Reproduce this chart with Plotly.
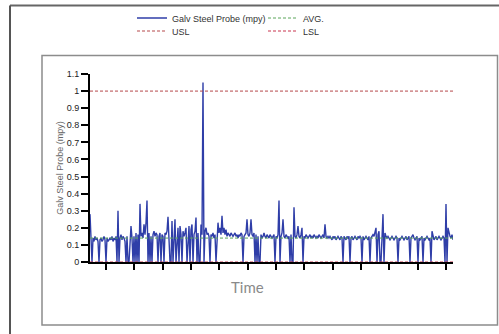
import plotly.graph_objects as go

# ---------------- data ----------------
probe_mpy = [
    0.28, 0.13, 0.00, 0.14, 0.12, 0.15, 0.13, 0.14, 0.12, 0.00,
    0.13, 0.14, 0.12, 0.13, 0.15, 0.13, 0.00, 0.14, 0.12, 0.13,
    0.14, 0.13, 0.15, 0.12, 0.14, 0.13, 0.15, 0.00, 0.30, 0.00,
    0.14, 0.16, 0.13, 0.15, 0.14, 0.12, 0.00, 0.15, 0.00, 0.00,
    0.16, 0.21, 0.14, 0.00, 0.15, 0.00, 0.17, 0.00, 0.16, 0.00,
    0.34, 0.15, 0.17, 0.14, 0.22, 0.16, 0.23, 0.36, 0.00, 0.17,
    0.00, 0.15, 0.00, 0.16, 0.18, 0.15, 0.17, 0.16, 0.00, 0.15,
    0.17, 0.00, 0.16, 0.15, 0.00, 0.17, 0.16, 0.18, 0.265, 0.15,
    0.00, 0.00, 0.24, 0.00, 0.17, 0.25, 0.00, 0.16, 0.20, 0.00,
    0.21, 0.16, 0.00, 0.18, 0.15, 0.17, 0.20, 0.00, 0.16, 0.21,
    0.00, 0.19, 0.22, 0.00, 0.16, 0.18, 0.26, 0.00, 0.17, 0.00,
    0.00, 0.22, 0.16, 1.05, 0.00, 0.18, 0.20, 0.16, 0.17, 0.15,
    0.00, 0.16, 0.15, 0.17, 0.14, 0.16, 0.00, 0.15, 0.23, 0.17,
    0.20, 0.16, 0.27, 0.17, 0.20, 0.16, 0.19, 0.15, 0.17, 0.16,
    0.15, 0.17, 0.16, 0.15, 0.16, 0.17, 0.15, 0.16, 0.14, 0.16,
    0.15, 0.17, 0.16, 0.00, 0.15, 0.16, 0.17, 0.25, 0.16, 0.15,
    0.17, 0.25, 0.16, 0.15, 0.17, 0.00, 0.16, 0.00, 0.15, 0.00,
    0.00, 0.16, 0.14, 0.15, 0.17, 0.15, 0.14, 0.16, 0.15, 0.14,
    0.16, 0.15, 0.14, 0.15, 0.16, 0.00, 0.15, 0.14, 0.16, 0.36,
    0.00, 0.15, 0.17, 0.25, 0.15, 0.14, 0.16, 0.15, 0.14, 0.15,
    0.00, 0.16, 0.00, 0.00, 0.32, 0.15, 0.14, 0.16, 0.21, 0.15,
    0.14, 0.16, 0.20, 0.00, 0.15, 0.14, 0.16, 0.15, 0.14, 0.15,
    0.16, 0.14, 0.15, 0.14, 0.16, 0.15, 0.14, 0.15, 0.14, 0.16,
    0.15, 0.14, 0.15, 0.16, 0.14, 0.22, 0.15, 0.14, 0.15, 0.14,
    0.15, 0.14, 0.13, 0.15, 0.14, 0.15, 0.13, 0.14, 0.15, 0.14,
    0.13, 0.15, 0.14, 0.00, 0.15, 0.14, 0.13, 0.15, 0.14, 0.15,
    0.00, 0.14, 0.15, 0.13, 0.14, 0.15, 0.14, 0.13, 0.15, 0.14,
    0.15, 0.14, 0.00, 0.15, 0.13, 0.14, 0.15, 0.14, 0.13, 0.15,
    0.00, 0.14, 0.15, 0.16, 0.15, 0.17, 0.20, 0.00, 0.16, 0.18,
    0.00, 0.00, 0.22, 0.28, 0.00, 0.17, 0.15, 0.14, 0.15, 0.14,
    0.13, 0.14, 0.15, 0.14, 0.13, 0.14, 0.15, 0.14, 0.00, 0.14,
    0.13, 0.14, 0.15, 0.14, 0.13, 0.14, 0.15, 0.13, 0.14, 0.15,
    0.00, 0.14, 0.15, 0.16, 0.14, 0.13, 0.14, 0.15, 0.00, 0.14,
    0.13, 0.14, 0.15, 0.00, 0.14, 0.13, 0.14, 0.15, 0.14, 0.13,
    0.14, 0.00, 0.18, 0.14, 0.13, 0.14, 0.15, 0.13, 0.14, 0.15,
    0.14, 0.13, 0.14, 0.15, 0.14, 0.00, 0.34, 0.00, 0.20, 0.16,
    0.15, 0.14, 0.16, 0.13,
]
time_index = list(range(len(probe_mpy)))
avg_value = 0.14
usl_value = 1.0
lsl_value = 0.0
y_tick_values = [0, 0.1, 0.2, 0.3, 0.4, 0.5, 0.6, 0.7, 0.8, 0.9, 1.0, 1.1]
y_tick_labels = ["0", "0.1", "0.2", "0.3", "0.4", "0.5", "0.6", "0.7", "0.8", "0.9", "1", "1.1"]

# ---------------- layout geometry (pixels) ----------------
W, H = 499, 334
PL, PR, PT, PB = 90, 453, 74, 262   # plot area edges in px

def px(xpix):
    return (xpix - PL) / (PR - PL)

def py(ypix):
    return (PB - ypix) / (PB - PT)

x_end = len(probe_mpy) - 1
x_ticks = [16 + 28.33 * k for k in range(13)]

FONT = "Liberation Sans, Arial, sans-serif"

fig = go.Figure()
fig.add_trace(go.Scatter(x=time_index, y=probe_mpy, mode="lines",
                         name="Galv Steel Probe (mpy)",
                         line=dict(color="#2f3ea8", width=1.4),
                         legend="legend"))
fig.add_trace(go.Scatter(x=[0, x_end], y=[avg_value, avg_value], mode="lines",
                         name="AVG.", line=dict(color="#5aa55a", width=1, dash="3px,2px"),
                         legend="legend2"))
fig.add_trace(go.Scatter(x=[0, x_end], y=[usl_value, usl_value], mode="lines",
                         name="USL", line=dict(color="#b5484a", width=1, dash="3px,2px"),
                         legend="legend3"))
fig.add_trace(go.Scatter(x=[0, x_end], y=[lsl_value, lsl_value], mode="lines",
                         name="LSL", line=dict(color="#c8344e", width=1, dash="3px,2px"),
                         legend="legend4"))

leg_common = dict(font=dict(family=FONT, size=9, color="#333333"),
                  bgcolor="rgba(0,0,0,0)", xanchor="left", yanchor="middle",
                  xref="paper", yref="paper", orientation="v")

fig.update_layout(
    width=W, height=H,
    margin=dict(l=PL, r=W - PR, t=PT, b=H - PB, autoexpand=False),
    paper_bgcolor="white", plot_bgcolor="white",
    font=dict(family=FONT, size=9, color="#333333"),
    showlegend=True,
    legend=dict(x=px(132), y=py(18), **leg_common),
    legend2=dict(x=px(263), y=py(18), **leg_common),
    legend3=dict(x=px(132), y=py(31), **leg_common),
    legend4=dict(x=px(263), y=py(31), **leg_common),
    xaxis=dict(range=[0, x_end], showgrid=False, zeroline=False,
               showline=True, linecolor="black", linewidth=2,
               ticks="outside", ticklen=6, tickwidth=2, tickcolor="black",
               tickvals=x_ticks, showticklabels=False, fixedrange=True),
    yaxis=dict(range=[0, 1.1], showgrid=False, zeroline=False,
               showline=True, linecolor="black", linewidth=2,
               ticks="outside", ticklen=7, tickwidth=2, tickcolor="black",
               tickvals=y_tick_values, ticktext=y_tick_labels,
               tickfont=dict(family=FONT, size=9, color="#222222"),
               title=dict(text="Galv Steel Probe (mpy)", standoff=2,
                          font=dict(family=FONT, size=9, color="#666666")),
               automargin=False),
    yaxis2=dict(range=[0, 1.1], overlaying="y", side="left", anchor="x",
                showgrid=False, zeroline=False, showline=False,
                ticks="inside", ticklen=5, tickwidth=2, tickcolor="black",
                tickvals=y_tick_values, showticklabels=False),
)

# Time label
fig.add_annotation(text="Time", xref="paper", yref="paper", x=px(247), y=py(287),
                   showarrow=False, xanchor="center", yanchor="middle",
                   font=dict(family="Lato, Open Sans, sans-serif", size=15, color="#8a8a8a"))

# frames
fig.add_shape(type="line", xref="paper", yref="paper",
              x0=px(10), x1=px(499), y0=py(5.5), y1=py(5.5),
              line=dict(color="#666666", width=2))
fig.add_shape(type="line", xref="paper", yref="paper",
              x0=px(10), x1=px(10), y0=py(5.5), y1=py(334),
              line=dict(color="#555555", width=2))
fig.add_shape(type="rect", xref="paper", yref="paper",
              x0=px(42), x1=px(497.5), y0=py(55.5), y1=py(325),
              line=dict(color="#8c8c8c", width=1.5))

fig.write_html("out.html", config={"displayModeBar": False, "staticPlot": True},
               post_script="document.body.style.margin='0';document.body.style.overflow='hidden';")
